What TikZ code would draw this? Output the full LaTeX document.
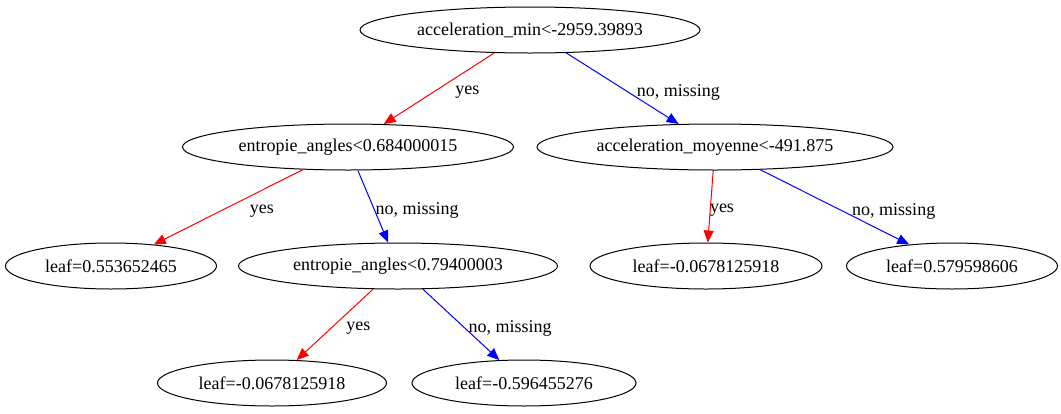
\documentclass[tikz,border=0pt]{standalone}
\usepackage{fontspec}
\setmainfont{Liberation Serif}
\usetikzlibrary{shapes.geometric,arrows.meta}
\tikzset{
  treenode/.style={ellipse, draw, line width=1pt, inner sep=0pt, minimum height=46pt, font=\fontsize{18}{22}\selectfont},
  yesedge/.style={draw=red, line width=1pt, -{Triangle[length=12pt,width=10pt]}},
  noedge/.style={draw=blue, line width=1pt, -{Triangle[length=12pt,width=10pt]}},
  lbl/.style={font=\fontsize{18}{22}\selectfont, inner sep=0pt, yshift=-4pt}
}
\begin{document}
\begin{tikzpicture}[x=1pt,y=-1pt]
\useasboundingbox (0,0) rectangle (1061,413);
% splits
\node[treenode, minimum width=340pt] (accmin) at (530,30) {acceleration\_min<-2959.39893};
\node[treenode, minimum width=331pt] (entA) at (348,147) {entropie\_angles<0.684000015};
\node[treenode, minimum width=356pt] (accmoy) at (715,147) {acceleration\_moyenne<-491.875};
\node[treenode, minimum width=319pt] (entB) at (398,266) {entropie\_angles<0.79400003};
% leaves
\node[treenode, minimum width=211pt] (leafA) at (111,266) {leaf=0.553652465};
\node[treenode, minimum width=232pt] (leafB) at (706,266) {leaf=-0.0678125918};
\node[treenode, minimum width=211pt] (leafC) at (952,266) {leaf=0.579598606};
\node[treenode, minimum width=229pt] (leafD) at (272,383) {leaf=-0.0678125918};
\node[treenode, minimum width=224pt] (leafE) at (524,383) {leaf=-0.596455276};
% edges
\draw[yesedge] (accmin) -- (entA) node[lbl, midway, right=16pt] {yes};
\draw[noedge] (accmin) -- (accmoy) node[lbl, midway, right=14pt] {no, missing};
\draw[yesedge] (entA) -- (leafA) node[lbl, midway, right=21pt] {yes};
\draw[noedge] (entA) -- (entB) node[lbl, midway, right=2pt] {no, missing};
\draw[yesedge] (accmoy) -- (leafB) node[lbl, midway, right=-1pt] {yes};
\draw[noedge] (accmoy) -- (leafC) node[lbl, midway, right=17pt] {no, missing};
\draw[yesedge] (entB) -- (leafD) node[lbl, midway, right=11pt] {yes};
\draw[noedge] (entB) -- (leafE) node[lbl, midway, right=7pt] {no, missing};
\end{tikzpicture}
\end{document}
